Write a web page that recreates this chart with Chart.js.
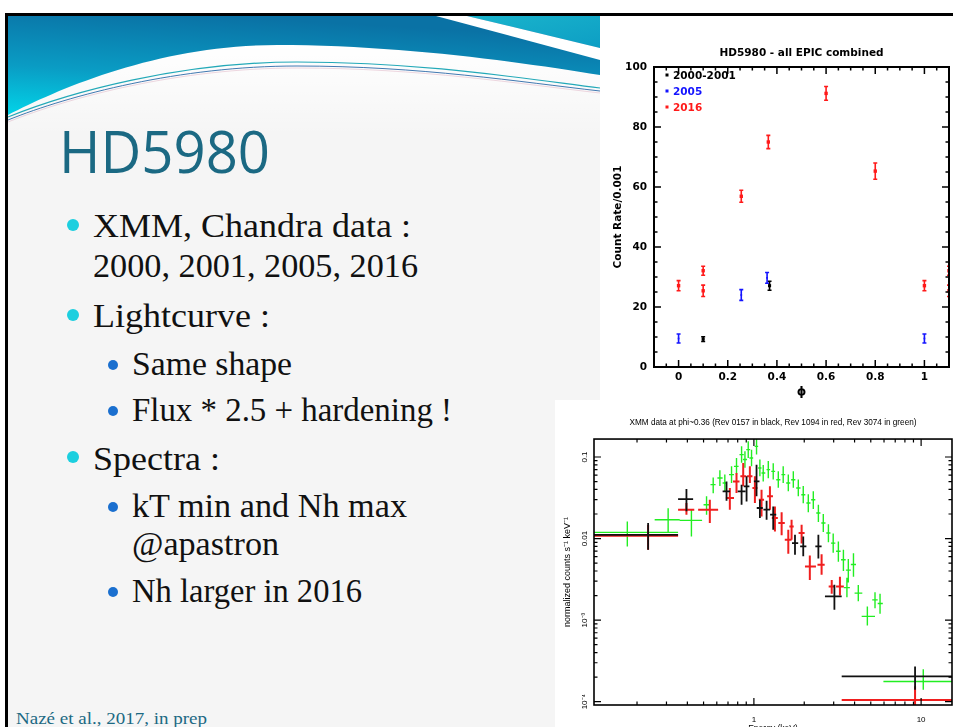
<!DOCTYPE html>
<html>
<head>
<meta charset="utf-8">
<title>HD5980</title>
<script src="https://cdn.jsdelivr.net/npm/chart.js@4.4.1/dist/chart.umd.min.js"></script>
<style>
  html, body { margin: 0; padding: 0; width: 953px; height: 727px; overflow: hidden; background: #fff; }
  #slide { position: absolute; left: 0; top: 0; width: 953px; height: 727px; overflow: hidden; background: #fff; }
  #paper { position: absolute; left: 5px; top: 13px; width: 948px; height: 714px; background: #f5f5f5;
           border-left: 3px solid #000; border-top: 3px solid #000; box-sizing: border-box; }
  #deco { position: absolute; left: 0; top: 0; }
  .plotbox { position: absolute; background: #fff; }
  #lcBox { left: 600px; top: 16px; width: 353px; height: 384px; }
  #spBox { left: 555px; top: 400px; width: 398px; height: 345px; }
  #sp { filter: blur(0.45px); }
  canvas { display: block; }
</style>
</head>
<body>
<div id="slide">
  <div id="paper"></div>
  <svg id="deco" width="953" height="727" xmlns="http://www.w3.org/2000/svg">
    <defs>
      <linearGradient id="band" x1="0.35" y1="0" x2="0" y2="1">
        <stop offset="0" stop-color="#0a72a5"/>
        <stop offset="0.55" stop-color="#0a9cc4"/>
        <stop offset="1" stop-color="#02d4e8"/>
      </linearGradient>
      <linearGradient id="corner" x1="0" y1="0" x2="1" y2="1">
        <stop offset="0" stop-color="#1ab4cc"/>
        <stop offset="1" stop-color="#0d9ec4"/>
      </linearGradient>
      <linearGradient id="fade" x1="0" y1="0" x2="0" y2="1">
        <stop offset="0" stop-color="#ffffff" stop-opacity="1"/>
        <stop offset="1" stop-color="#ffffff" stop-opacity="0"/>
      </linearGradient>
    </defs>
    <!-- header band -->
    <path d="M8,115 C60,88 160,45 277,45 C400,45 520,62 600,75 L600,135 L8,135 Z" fill="url(#fade)"/>
    <path d="M8,16 L600,16 L600,75 C520,62 400,45 277,45 C160,45 60,88 8,115 Z" fill="url(#band)"/>
    <path d="M467,16 L600,16 L600,48 Z" fill="url(#corner)"/>
    <path d="M436,16 L467,16 L600,48 L600,60 Z" fill="#ffffff"/>
    <path d="M8,117 C70,92 180,62 297,62 C420,62 520,78 600,88" fill="none" stroke="#23a9b8" stroke-width="1.2"/>
    <path d="M8,120 C70,95 180,66 297,66 C420,66 520,82 600,91" fill="none" stroke="#2d6aa8" stroke-width="0.9"/>
    <path d="M8,122 C70,97 180,68 297,68 C420,68 520,84 600,93" fill="none" stroke="#d9a0b8" stroke-width="0.6" opacity="0.7"/>

    <!-- slide title -->
    <text x="59" y="173" font-family="Open Sans" font-size="58" fill="#1b6983" textLength="211" lengthAdjust="spacingAndGlyphs">HD5980</text>

    <!-- bullet list -->
    <g font-family="Liberation Serif" font-size="33" fill="#111">
      <circle cx="73" cy="225" r="6" fill="#1ccfdf"/>
      <text x="93" y="237" textLength="318" lengthAdjust="spacingAndGlyphs">XMM, Chandra data :</text>
      <text x="93" y="277" textLength="325" lengthAdjust="spacingAndGlyphs">2000, 2001, 2005, 2016</text>
      <circle cx="73" cy="315" r="6" fill="#1ccfdf"/>
      <text x="93" y="327" textLength="177" lengthAdjust="spacingAndGlyphs">Lightcurve :</text>
      <circle cx="113" cy="365" r="5" fill="#1a6fcf"/>
      <text x="132" y="375" textLength="160" lengthAdjust="spacingAndGlyphs">Same shape</text>
      <circle cx="113" cy="411" r="5" fill="#1a6fcf"/>
      <text x="132" y="421" textLength="320" lengthAdjust="spacingAndGlyphs">Flux * 2.5 + hardening !</text>
      <circle cx="73" cy="457" r="6" fill="#1ccfdf"/>
      <text x="93" y="470" textLength="127" lengthAdjust="spacingAndGlyphs">Spectra :</text>
      <circle cx="113" cy="507" r="5" fill="#1a6fcf"/>
      <text x="132" y="517" textLength="275" lengthAdjust="spacingAndGlyphs">kT min and Nh max</text>
      <text x="132" y="555" textLength="147" lengthAdjust="spacingAndGlyphs">@apastron</text>
      <circle cx="113" cy="592" r="5" fill="#1a6fcf"/>
      <text x="132" y="602" textLength="230" lengthAdjust="spacingAndGlyphs">Nh larger in 2016</text>
    </g>

    <text x="16" y="724" font-family="Liberation Serif" font-size="17" fill="#1b6983" textLength="191" lengthAdjust="spacingAndGlyphs">Nazé et al., 2017, in prep</text>
  </svg>

  <div id="lcBox" class="plotbox"><canvas id="lc" width="353" height="384"></canvas></div>
  <div id="spBox" class="plotbox"><canvas id="sp" width="398" height="345"></canvas></div>
</div>

<script>
// ---------- Light curve: count rate (per 0.001 cts/s) vs orbital phase ----------
const phaseTickValues = [0, 0.2, 0.4, 0.6, 0.8, 1];
const phaseTickLabels = ['0', '0.2', '0.4', '0.6', '0.8', '1'];
const rateTickValues = [0, 20, 40, 60, 80, 100];
const rateTickLabels = ['0', '20', '40', '60', '80', '100'];
const phaseMinorStep = 0.05;
const rateMinorStep = 5;

const seriesNames = ['2000-2001', '2005', '2016'];

const phase0001 = [0.10, 0.37];
const rate0001 = [9.3, 27.1];
const rateErr0001 = [0.8, 1.5];

const phase2005 = [0.0, 0.255, 0.36, 1.0];
const rate2005 = [9.5, 24.0, 29.7, 9.5];
const rateErr2005 = [1.5, 1.8, 1.8, 1.5];

const phase2016 = [0.0, 0.10, 0.10, 0.255, 0.365, 0.60, 0.80, 1.0, 1.10, 1.10];
const rate2016 = [27.1, 32.1, 25.4, 56.9, 75.0, 91.2, 65.3, 27.1, 32.1, 25.4];
const rateErr2016 = [1.7, 1.5, 1.9, 2.0, 2.2, 2.3, 2.7, 1.7, 1.5, 1.9];

// ---------- Spectra at phase ~0.36 (XMM revolutions 0157, 1094, 3074) ----------
const energyTickValues = [1, 10];
const energyTickLabels = ['1', '10'];
const countTickValues = [0.1, 0.01, 0.001, 0.0001];
const countTickLabels = ['0.1', '0.01', '10\u207B\u00B3', '10\u207B\u2074'];

const energy0157   = [0.233, 0.395, 0.686, 0.844, 0.904, 1.037, 1.086, 1.191, 1.305, 1.761, 1.973, 2.43, 3.03, 9.2];
const energyLo0157 = [0.10, 0.352, 0.65, 0.80, 0.87, 1.00, 1.04, 1.14, 1.25, 1.69, 1.89, 2.33, 2.66, 3.35];
const energyHi0157 = [0.352, 0.433, 0.72, 0.89, 0.94, 1.08, 1.13, 1.25, 1.36, 1.84, 2.06, 2.54, 3.35, 16];
const counts0157   = [0.0111, 0.0305, 0.0379, 0.0379, 0.0437, 0.0502, 0.0237, 0.0226, 0.0196, 0.00881, 0.00802, 0.00802, 0.00195, 0.000204];
const countsLo0157 = [0.0073, 0.0216, 0.029, 0.026, 0.0285, 0.033, 0.0178, 0.017, 0.0128, 0.00634, 0.00606, 0.0057, 0.00134, 0.00014];
const countsHi0157 = [0.0155, 0.0405, 0.050, 0.0458, 0.058, 0.0805, 0.0299, 0.029, 0.0248, 0.0111, 0.0106, 0.0111, 0.00272, 0.00027];

const energy1094   = [0.233, 0.395, 0.545, 0.718, 0.787, 0.863, 0.946, 1.014, 1.111, 1.247, 1.336, 1.465, 1.606, 1.68, 1.929, 2.16, 2.54, 2.92, 3.27, 9.2];
const energyLo1094 = [0.10, 0.352, 0.464, 0.68, 0.75, 0.83, 0.91, 0.98, 1.07, 1.20, 1.28, 1.40, 1.53, 1.63, 1.85, 2.02, 2.40, 2.80, 3.10, 3.35];
const energyHi1094 = [0.352, 0.44, 0.611, 0.76, 0.82, 0.90, 0.98, 1.05, 1.15, 1.30, 1.39, 1.53, 1.68, 1.73, 2.01, 2.35, 2.65, 3.05, 3.45, 16];
const counts1094   = [0.0108, 0.0226, 0.0226, 0.0314, 0.0502, 0.058, 0.058, 0.0417, 0.0299, 0.0329, 0.0179, 0.0155, 0.00968, 0.0141, 0.0117, 0.00455, 0.00477, 0.00259, 0.00259, 0.000105];
const countsLo1094 = [0.0073, 0.0196, 0.0155, 0.0226, 0.0361, 0.0437, 0.048, 0.0273, 0.0187, 0.0226, 0.0122, 0.011, 0.0065, 0.0097, 0.0087, 0.0031, 0.0036, 0.0021, 0.0020, 0.0000794];
const countsHi1094 = [0.0147, 0.0273, 0.0299, 0.0417, 0.0636, 0.0844, 0.077, 0.058, 0.0397, 0.0437, 0.0248, 0.021, 0.0128, 0.017, 0.0148, 0.0062, 0.0064, 0.0031, 0.0034, 0.000155];

const energy3074   = [0.175, 0.307, 0.423, 0.521, 0.571, 0.626, 0.67, 0.735, 0.787, 0.844, 0.884, 0.925, 0.968, 1.037, 1.086, 1.137, 1.219, 1.305, 1.399, 1.497, 1.606, 1.721, 1.843, 1.973, 2.115, 2.266, 2.43, 2.60, 2.79, 2.98, 3.20, 3.43, 3.67, 3.94, 3.60, 4.21, 4.77, 5.30, 5.68, 10.3];
const energyLo3074 = [0.09, 0.255, 0.36, 0.50, 0.55, 0.605, 0.65, 0.71, 0.76, 0.82, 0.86, 0.90, 0.94, 1.01, 1.06, 1.11, 1.19, 1.27, 1.36, 1.46, 1.56, 1.67, 1.79, 1.92, 2.06, 2.20, 2.36, 2.53, 2.71, 2.89, 3.10, 3.32, 3.55, 3.80, 3.45, 4.00, 4.41, 5.10, 5.50, 5.95];
const energyHi3074 = [0.352, 0.36, 0.49, 0.545, 0.59, 0.65, 0.69, 0.76, 0.81, 0.87, 0.91, 0.95, 0.99, 1.06, 1.11, 1.17, 1.25, 1.34, 1.44, 1.54, 1.65, 1.77, 1.90, 2.03, 2.18, 2.33, 2.50, 2.68, 2.87, 3.07, 3.30, 3.54, 3.80, 4.08, 3.75, 4.45, 5.30, 5.50, 5.90, 16];
const counts3074   = [0.0119, 0.0170, 0.0167, 0.026, 0.0458, 0.0553, 0.048, 0.0607, 0.0768, 0.107, 0.093, 0.123, 0.097, 0.135, 0.0733, 0.0636, 0.070, 0.0667, 0.0527, 0.0607, 0.048, 0.0527, 0.0417, 0.0345, 0.0273, 0.0299, 0.0206, 0.0155, 0.0117, 0.0088, 0.0070, 0.0055, 0.0041, 0.0048, 0.0025, 0.00214, 0.00111, 0.00177, 0.0016, 0.000177];
const countsLo3074 = [0.0080, 0.0117, 0.0106, 0.0196, 0.036, 0.044, 0.038, 0.048, 0.061, 0.085, 0.074, 0.097, 0.077, 0.107, 0.058, 0.050, 0.055, 0.053, 0.042, 0.048, 0.038, 0.042, 0.033, 0.027, 0.021, 0.023, 0.016, 0.012, 0.009, 0.0067, 0.0052, 0.0040, 0.0029, 0.0034, 0.0019, 0.0017, 0.00086, 0.0014, 0.0012, 0.00014];
const countsHi3074 = [0.0162, 0.0236, 0.0226, 0.0329, 0.056, 0.069, 0.061, 0.077, 0.097, 0.135, 0.118, 0.156, 0.123, 0.170, 0.093, 0.080, 0.089, 0.084, 0.067, 0.077, 0.061, 0.067, 0.053, 0.044, 0.035, 0.038, 0.026, 0.020, 0.015, 0.0115, 0.0092, 0.0073, 0.0056, 0.0066, 0.0033, 0.0027, 0.00147, 0.0022, 0.0021, 0.00025];

const energyMinorTicks = [0.2, 0.3, 0.4, 0.5, 0.6, 0.7, 0.8, 0.9, 2, 3, 4, 5, 6, 7, 8, 9];
const countMinorTicks = [];
[0.0001, 0.001, 0.01, 0.1].forEach(d => { for (let k = 2; k <= 9; k++) countMinorTicks.push(d * k); });

Chart.defaults.color = '#000';
Chart.defaults.font.family = 'DejaVu Sans';

const zip = (xs, ys) => xs.map((v, i) => ({ x: v, y: ys[i] }));
const range = (a, b, step) => { const out = []; for (let v = a; v <= b + 1e-9; v += step) out.push(+v.toFixed(6)); return out; };

// Frame round the plot area with ticks pointing inwards on all four sides
const frameTicks = {
  id: 'frameTicks',
  afterDraw(chart, args, o) {
    const { ctx, chartArea: a, scales: { x, y } } = chart;
    ctx.save();
    ctx.strokeStyle = '#000';
    ctx.lineWidth = o.width;
    ctx.strokeRect(a.left, a.top, a.right - a.left, a.bottom - a.top);
    ctx.lineWidth = o.tickWidth;
    ctx.beginPath();
    const xt = (vals, len) => vals.forEach(v => {
      const p = x.getPixelForValue(v);
      if (p < a.left - 0.5 || p > a.right + 0.5) return;
      ctx.moveTo(p, a.bottom); ctx.lineTo(p, a.bottom - len);
      ctx.moveTo(p, a.top); ctx.lineTo(p, a.top + len);
    });
    const yt = (vals, len) => vals.forEach(v => {
      const p = y.getPixelForValue(v);
      if (p < a.top - 0.5 || p > a.bottom + 0.5) return;
      ctx.moveTo(a.left, p); ctx.lineTo(a.left + len, p);
      ctx.moveTo(a.right, p); ctx.lineTo(a.right - len, p);
    });
    xt(o.xMajor, o.major); xt(o.xMinor, o.minor);
    yt(o.yMajor, o.major); yt(o.yMinor, o.minor);
    ctx.stroke();
    ctx.restore();
  }
};

// Vertical error bars with short caps for the light curve
const errorBars = {
  id: 'errorBars',
  afterDatasetsDraw(chart, args, o) {
    const { ctx, chartArea: a, scales: { x, y } } = chart;
    ctx.save();
    ctx.beginPath(); ctx.rect(a.left, a.top, a.right - a.left, a.bottom - a.top); ctx.clip();
    chart.data.datasets.forEach(ds => {
      ctx.strokeStyle = ds.borderColor;
      ctx.lineWidth = o.width;
      ctx.beginPath();
      ds.data.forEach((p, i) => {
        const px = x.getPixelForValue(p.x);
        const lo = y.getPixelForValue(p.y - ds.yErr[i]);
        const hi = y.getPixelForValue(p.y + ds.yErr[i]);
        ctx.moveTo(px, lo); ctx.lineTo(px, hi);
        ctx.moveTo(px - o.cap, lo); ctx.lineTo(px + o.cap, lo);
        ctx.moveTo(px - o.cap, hi); ctx.lineTo(px + o.cap, hi);
      });
      ctx.stroke();
    });
    ctx.restore();
  }
};

// Key in the upper left corner of the light curve
const cornerKey = {
  id: 'cornerKey',
  afterDraw(chart, args, o) {
    const { ctx, chartArea: a } = chart;
    ctx.save();
    ctx.font = o.font;
    ctx.textBaseline = 'middle';
    chart.data.datasets.forEach((ds, i) => {
      const yy = a.top + o.top + i * o.row;
      ctx.fillStyle = ds.borderColor;
      ctx.fillRect(a.left + o.dot - 1.5, yy - 2.5, 3, 3);
      ctx.fillText(ds.label, a.left + o.text, yy);
    });
    ctx.restore();
  }
};

// Crosses (energy bin width and count-rate error) for the spectra
const crosses = {
  id: 'crosses',
  afterDatasetsDraw(chart) {
    const { ctx, chartArea: a, scales: { x, y } } = chart;
    ctx.save();
    ctx.beginPath(); ctx.rect(a.left, a.top, a.right - a.left, a.bottom - a.top); ctx.clip();
    chart.data.datasets.forEach(ds => {
      ctx.strokeStyle = ds.borderColor;
      ctx.lineWidth = ds.crossWidth;
      ctx.beginPath();
      ds.data.forEach((p, i) => {
        const px = x.getPixelForValue(p.x), py = y.getPixelForValue(p.y);
        ctx.moveTo(x.getPixelForValue(ds.xLo[i]), py); ctx.lineTo(x.getPixelForValue(ds.xHi[i]), py);
        ctx.moveTo(px, y.getPixelForValue(ds.yLo[i])); ctx.lineTo(px, y.getPixelForValue(ds.yHi[i]));
      });
      ctx.stroke();
    });
    ctx.restore();
  }
};

// Rotated count-rate labels on the left of the spectrum frame
const sideLabels = {
  id: 'sideLabels',
  afterDraw(chart, args, o) {
    const { ctx, scales: { y } } = chart;
    ctx.save();
    ctx.font = o.font;
    ctx.fillStyle = '#000';
    ctx.textAlign = 'center';
    ctx.textBaseline = 'middle';
    o.values.forEach((v, i) => {
      ctx.save();
      ctx.translate(o.x, y.getPixelForValue(v));
      ctx.rotate(-Math.PI / 2);
      ctx.fillText(o.labels[i], 0, 0);
      ctx.restore();
    });
    ctx.restore();
  }
};

const boldFont = { family: 'DejaVu Sans', weight: 'bold', size: 10.5 };

new Chart(document.getElementById('lc'), {
  type: 'scatter',
  data: {
    datasets: [
      { label: seriesNames[0], data: zip(phase0001, rate0001), yErr: rateErr0001,
        borderColor: '#000000', backgroundColor: '#000000', pointStyle: 'rect', pointRadius: 2.2, borderWidth: 0 },
      { label: seriesNames[1], data: zip(phase2005, rate2005), yErr: rateErr2005,
        borderColor: '#1414ff', backgroundColor: '#1414ff', pointStyle: 'rect', pointRadius: 1.2, borderWidth: 0 },
      { label: seriesNames[2], data: zip(phase2016, rate2016), yErr: rateErr2016,
        borderColor: '#ff1a1a', backgroundColor: '#ff1a1a', pointStyle: 'rect', pointRadius: 2.4, borderWidth: 0 }
    ]
  },
  options: {
    responsive: false,
    animation: false,
    events: [],
    layout: { padding: 0 },
    plugins: {
      legend: { display: false },
      tooltip: { enabled: false },
      title: { display: true, text: 'HD5980 - all EPIC combined', fullSize: false,
               font: boldFont, padding: { top: 31, bottom: 7.4 } },
      frameTicks: { width: 2, tickWidth: 1.5, major: 7, minor: 3.5,
                    xMajor: phaseTickValues, xMinor: range(-0.1, 1.1, phaseMinorStep),
                    yMajor: rateTickValues, yMinor: range(0, 100, rateMinorStep) },
      errorBars: { width: 1.6, cap: 2 },
      cornerKey: { font: 'bold 10.5px "DejaVu Sans"', top: 9, row: 16, dot: 13, text: 19 }
    },
    scales: {
      x: {
        type: 'linear', min: -0.1, max: 1.1,
        afterBuildTicks: s => { s.ticks = phaseTickValues.map(v => ({ value: v })); },
        afterFit: s => { s.height = 33; },
        grid: { display: false, drawTicks: false }, border: { display: false },
        ticks: { padding: 4, font: boldFont, callback: (v, i) => phaseTickLabels[i] },
        title: { display: true, text: '\u03D5', font: { family: 'DejaVu Sans', weight: 'bold', size: 12 },
                 padding: { top: 0, bottom: 0.8 } }
      },
      y: {
        type: 'linear', min: 0, max: 100,
        afterBuildTicks: s => { s.ticks = rateTickValues.map(v => ({ value: v })); },
        afterFit: s => { s.width = 54; },
        grid: { display: false, drawTicks: false }, border: { display: false },
        ticks: { padding: 7, font: boldFont, callback: (v, i) => rateTickLabels[i] },
        title: { display: true, text: 'Count Rate/0.001', font: boldFont, padding: { top: 11.7, bottom: 0 } }
      }
    }
  },
  plugins: [errorBars, frameTicks, cornerKey]
});

const spectrumSet = (label, color, width, xs, xLo, xHi, ys, yLo, yHi) => ({
  label, data: zip(xs, ys), xLo, xHi, yLo, yHi,
  borderColor: color, backgroundColor: color, pointRadius: 0, crossWidth: width
});

new Chart(document.getElementById('sp'), {
  type: 'scatter',
  data: {
    datasets: [
      spectrumSet('Rev 3074', '#22ee22', 1.4, energy3074, energyLo3074, energyHi3074, counts3074, countsLo3074, countsHi3074),
      spectrumSet('Rev 1094', '#f01e1e', 2, energy1094, energyLo1094, energyHi1094, counts1094, countsLo1094, countsHi1094),
      spectrumSet('Rev 0157', '#111111', 1.8, energy0157, energyLo0157, energyHi0157, counts0157, countsLo0157, countsHi0157)
    ]
  },
  options: {
    responsive: false,
    animation: false,
    events: [],
    layout: { padding: { top: 0, right: 1, bottom: 0, left: 0 } },
    plugins: {
      legend: { display: false },
      tooltip: { enabled: false },
      title: { display: true, fullSize: false,
               text: 'XMM data at phi~0.36 (Rev 0157 in black, Rev 1094 in red, Rev 3074 in green)',
               font: { family: 'Liberation Sans', size: 8.2, weight: 'normal' }, padding: { top: 18, bottom: 11.2 } },
      frameTicks: { width: 1.6, tickWidth: 1.2, major: 7, minor: 3.5,
                    xMajor: energyTickValues, xMinor: energyMinorTicks,
                    yMajor: countTickValues, yMinor: countMinorTicks },
      sideLabels: { font: '8px "Liberation Sans"', x: 30, values: countTickValues, labels: countTickLabels }
    },
    scales: {
      x: {
        type: 'logarithmic', min: 0.1106, max: 15.3,
        afterBuildTicks: s => { s.ticks = energyTickValues.map(v => ({ value: v })); },
        afterFit: s => { s.height = 40; },
        grid: { display: false, drawTicks: false }, border: { display: false },
        ticks: { padding: 10, font: { family: 'Liberation Sans', size: 8 }, callback: (v, i) => energyTickLabels[i] },
        title: { display: true, text: 'Energy (keV)', font: { family: 'Liberation Sans', size: 8.5 },
                 padding: { top: 0, bottom: 11 } }
      },
      y: {
        type: 'logarithmic', min: 0.000091, max: 0.166,
        afterBuildTicks: s => { s.ticks = countTickValues.map(v => ({ value: v })); },
        afterFit: s => { s.width = 39; },
        grid: { display: false, drawTicks: false }, border: { display: false },
        ticks: { display: false },
        title: { display: true, text: 'normalized counts s\u207B\u00B9 keV\u207B\u00B9',
                 font: { family: 'Liberation Sans', size: 9 }, padding: { top: 7.5, bottom: 0 } }
      }
    }
  },
  plugins: [crosses, frameTicks, sideLabels]
});
</script>
</body>
</html>
